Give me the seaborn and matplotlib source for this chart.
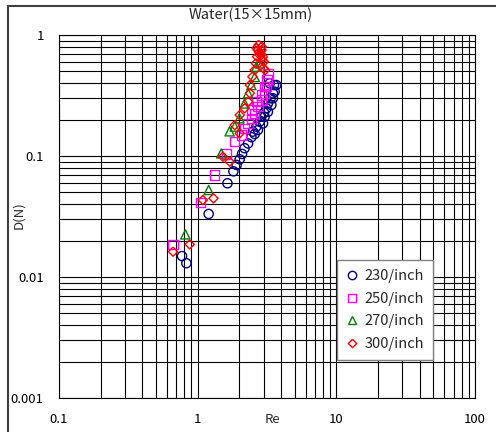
import numpy as np
import pandas as pd
import seaborn as sns
import matplotlib
matplotlib.use("Agg")
import matplotlib.pyplot as plt
from matplotlib.lines import Line2D
from matplotlib.ticker import LogLocator, FixedLocator, NullFormatter

# ---------------- data ----------------
series_names = ["230/inch", "250/inch", "270/inch", "300/inch"]

re_230 = [0.771, 0.829, 1.20, 1.64, 1.81, 1.91, 2.01, 2.09, 2.18, 2.31, 2.44, 2.50,
          2.58, 2.65, 2.80, 2.88, 3.01, 3.13, 3.21, 3.36, 3.49, 3.55,
          3.69, 3.59, 3.49, 3.40, 3.21, 3.04, 2.96, 2.72, 3.31]
d_230 = [0.0149, 0.0130, 0.0332, 0.0595, 0.0747, 0.0843, 0.094, 0.104, 0.116, 0.127, 0.143, 0.159,
         0.152, 0.175, 0.192, 0.211, 0.228, 0.248, 0.273, 0.300, 0.330, 0.386,
         0.386, 0.340, 0.300, 0.264, 0.232, 0.211, 0.186, 0.164, 0.399]

re_250 = [0.664, 1.05, 1.33, 1.61, 1.85, 2.07, 2.18, 2.31, 2.44, 2.58, 2.72, 2.88,
          3.04, 3.13, 3.16, 3.21, 2.44, 2.65, 2.88, 3.04]
d_250 = [0.0186, 0.0414, 0.0697, 0.104, 0.131, 0.149, 0.169, 0.186, 0.205, 0.225, 0.255, 0.290,
         0.330, 0.374, 0.425, 0.482, 0.240, 0.281, 0.319, 0.374]

re_270 = [0.815, 1.20, 1.48, 1.70, 1.85, 2.00, 2.18, 2.31, 2.44, 2.58, 2.65, 2.80]
d_270 = [0.0225, 0.0524, 0.105, 0.160, 0.175, 0.205, 0.272, 0.330, 0.386, 0.45, 0.547, 0.583]

re_300 = [0.664, 0.876, 1.09, 1.30, 1.52, 1.70, 1.85, 2.01, 2.01, 2.18, 2.31, 2.38, 2.38,
          2.48, 2.58, 2.63, 2.68, 2.71, 2.75, 2.89, 2.93, 2.97, 2.80, 3.00, 3.07,
          2.66, 2.85, 2.95, 2.78, 2.90]
d_300 = [0.0162, 0.0186, 0.0433, 0.0447, 0.0987, 0.0897, 0.180, 0.154, 0.218, 0.248, 0.281, 0.330, 0.386,
         0.452, 0.514, 0.583, 0.662, 0.751, 0.827, 0.751, 0.622, 0.533, 0.683, 0.60, 0.513,
         0.78, 0.70, 0.66, 0.72, 0.80]

x_ticks = [0.1, 1, 10, 100]
x_ticklabels = ["0.1", "1", "10", "100"]
y_ticks = [0.001, 0.01, 0.1, 1]
y_ticklabels = ["0.001", "0.01", "0.1", "1"]

title = "Water(15×15mm)"
xlabel = "Re"
ylabel = "D(N)"

colors = {"230/inch": "#000080", "250/inch": "#FF00FF", "270/inch": "#008000", "300/inch": "#FF0000"}
diamond = [(0, 1), (1, 0), (0, -1), (-1, 0), (0, 1)]
markers = {"230/inch": "o", "250/inch": "s", "270/inch": "^", "300/inch": diamond}

frames = []
for name, xs, ys in zip(series_names, [re_230, re_250, re_270, re_300], [d_230, d_250, d_270, d_300]):
    frames.append(pd.DataFrame({"Re": xs, "D": ys, "series": name}))
df = pd.concat(frames, ignore_index=True)

# ---------------- plot ----------------
sns.set_style("white")
plt.rcParams["font.family"] = ["Noto Sans CJK JP", "DejaVu Sans"]

fig = plt.figure(figsize=(4.96, 4.32), dpi=100)
ax = fig.add_axes([59 / 496, 1 - 398 / 432, 416 / 496, 363 / 432])

sns.scatterplot(data=df, x="Re", y="D", hue="series", style="series",
                hue_order=series_names, style_order=series_names,
                palette=colors, markers=markers, s=44, linewidth=1.0,
                legend=False, ax=ax, zorder=3)

coll = ax.collections[0]
fc = coll.get_facecolors()
coll.set_edgecolors(fc)
coll.set_facecolors("none")

ax.set_xscale("log")
ax.set_yscale("log")
ax.set_xlim(0.1, 100)
ax.set_ylim(0.001, 1)

ax.xaxis.set_major_locator(FixedLocator(x_ticks))
ax.yaxis.set_major_locator(FixedLocator(y_ticks))
ax.set_xticklabels(x_ticklabels)
ax.set_yticklabels(y_ticklabels)
ax.xaxis.set_minor_locator(LogLocator(base=10, subs=np.arange(2, 10)))
ax.yaxis.set_minor_locator(LogLocator(base=10, subs=np.arange(2, 10)))
ax.xaxis.set_minor_formatter(NullFormatter())
ax.yaxis.set_minor_formatter(NullFormatter())

ax.grid(True, which="both", color="black", linewidth=0.8)
ax.set_axisbelow(True)
ax.tick_params(which="both", length=0, labelsize=9.5, colors="black")
ax.tick_params(axis="x", pad=11)
ax.tick_params(axis="y", pad=11)
for sp in ax.spines.values():
    sp.set_color("black")
    sp.set_linewidth(0.8)

ax.set_xlabel(xlabel, fontsize=9.5)
ax.xaxis.set_label_coords((272 - 59) / 416, -0.04)
ax.set_ylabel(ylabel, fontsize=9.5)
ax.yaxis.set_label_coords(-0.082, (398 - 215) / 363)

fig.text(251 / 496, 1 - 15 / 432, title, ha="center", va="center", fontsize=10.5)

handles = [Line2D([], [], linestyle="none", marker=markers[n],
                  markersize=6, markerfacecolor="none", markeredgecolor=colors[n],
                  markeredgewidth=1.0) for n in series_names]
leg = ax.legend(handles, series_names, loc="lower left",
                bbox_to_anchor=((337 - 59) / 416, (398 - 360) / 363),
                fontsize=10.5, frameon=True, fancybox=False, framealpha=1,
                edgecolor="#808080", handlelength=0.8, handletextpad=0.5,
                labelspacing=0.6, borderpad=0.6, borderaxespad=0)
leg.get_frame().set_linewidth(1.0)

# figure border (top and left visible)
fig.add_artist(Line2D([8 / 496, 1], [1 - 5.5 / 432, 1 - 5.5 / 432], transform=fig.transFigure,
                      color="#404040", linewidth=1.5))
fig.add_artist(Line2D([8 / 496, 8 / 496], [0, 1 - 5.5 / 432], transform=fig.transFigure,
                      color="#404040", linewidth=1.5))

fig.savefig("out.png", dpi=100)
